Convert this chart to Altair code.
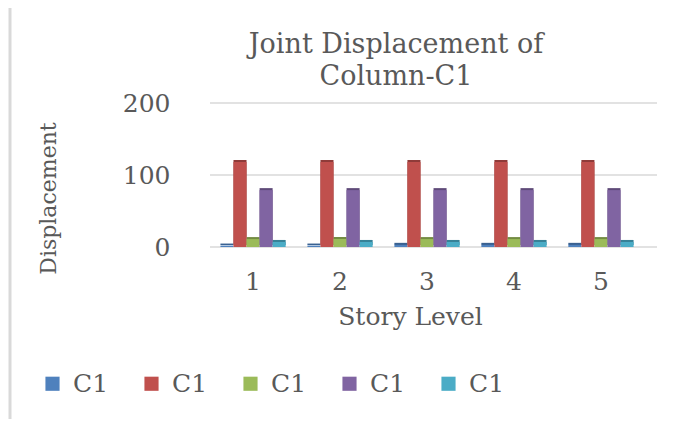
import altair as alt
import pandas as pd

stories = ["1", "2", "3", "4", "5"]
series_ids = ["s1", "s2", "s3", "s4", "s5"]
series_labels = ["C1", "C1", "C1", "C1", "C1"]
colors = ["#4f81bd", "#c0504d", "#9bbb59", "#8064a2", "#4bacc6"]
side_colors = ["#3a6190", "#8f3b39", "#738c42", "#5f4a79", "#378196"]
values = {
    "s1": [2, 2, 3, 3, 3],
    "s2": [118, 118, 118, 118, 118],
    "s3": [11, 11, 11, 11, 11],
    "s4": [79, 79, 79, 79, 79],
    "s5": [7, 7, 7, 7, 7],
}
y_ticks = [0, 100, 200]
title_lines = ["Joint Displacement of", "Column-C1"]

rows = []
for sid, sc in zip(series_ids, side_colors):
    for st, v in zip(stories, values[sid]):
        rows.append({"story": st, "series": sid, "value": v, "side": sc})
df = pd.DataFrame(rows)

FONT = "DejaVu Serif"
GREY = "#595959"

yscale = alt.Scale(domain=[0, 200])
xscale = alt.Scale(range=[0, 434], paddingInner=0.25, paddingOuter=0.12)

xaxis = alt.Axis(title="Story Level", labelAngle=0, labelFontSize=25,
                 labelFont=FONT, labelColor=GREY, labelPadding=22,
                 ticks=False, domain=False, grid=False, titleFont=FONT,
                 titleFontSize=25, titleFontWeight="normal",
                 titleColor=GREY, titleX=200, titlePadding=10)
yaxis = alt.Axis(values=y_ticks, title="Displacement", grid=False,
                 labelFont=FONT, labelFontSize=25, labelColor=GREY,
                 labelPadding=40, ticks=False, domain=False,
                 titleFont=FONT, titleFontSize=22,
                 titleFontWeight="normal", titleColor=GREY,
                 titleX=-162, titleY=95, titleAngle=-90,
                 titleBaseline="middle", titleAlign="center")

grid = alt.Chart(pd.DataFrame({"v": y_ticks})).mark_rule(
    color="#d9d9d9", strokeWidth=1.5
).encode(y=alt.Y("v:Q", scale=yscale, axis=yaxis, title="Displacement"),
         x=alt.value(0), x2=alt.value(447))

side = alt.Chart(df).mark_bar(xOffset=3, yOffset=-2).encode(
    x=alt.X("story:N", sort=stories, scale=xscale, axis=xaxis),
    xOffset=alt.XOffset("series:N", sort=series_ids),
    y=alt.Y("value:Q", scale=yscale, axis=yaxis),
    fill=alt.Fill("side:N", scale=None, legend=None),
)

bars = alt.Chart(df).mark_bar().encode(
    x=alt.X("story:N", sort=stories, scale=xscale, axis=xaxis),
    xOffset=alt.XOffset("series:N", sort=series_ids),
    y=alt.Y("value:Q", scale=yscale, axis=yaxis),
    color=alt.Color("series:N", sort=series_ids,
                    scale=alt.Scale(domain=series_ids, range=colors),
                    legend=alt.Legend(orient="none", direction="horizontal",
                                      legendX=-170, legendY=268, columns=5,
                                      title=None, symbolType="square",
                                      symbolSize=200, symbolStrokeWidth=0,
                                      labelFont=FONT, labelFontSize=25,
                                      labelColor=GREY, labelOffset=8,
                                      columnPadding=30,
                                      labelExpr="'C1'")),
)

border = alt.Chart(pd.DataFrame({"a": [0]})).mark_rule(
    color="#d9d9d9", strokeWidth=3
).encode(x=alt.value(-200), y=alt.value(-95), y2=alt.value(318))

title1 = alt.Chart(pd.DataFrame({"t": [title_lines[0]]})).mark_text(
    font=FONT, fontSize=27, color=GREY, align="center", baseline="alphabetic"
).encode(text="t:N", x=alt.value(186), y=alt.value(-50))
title2 = alt.Chart(pd.DataFrame({"t": [title_lines[1]]})).mark_text(
    font=FONT, fontSize=27, color=GREY, align="center", baseline="alphabetic"
).encode(text="t:N", x=alt.value(186), y=alt.value(-18))

chart = alt.layer(grid, side, bars, border, title1, title2).properties(
    width=447, height=144,
    view=alt.ViewBackground(stroke="transparent", strokeWidth=0),
    autosize=alt.AutoSizeParams(type="none"),
    padding={"left": 202, "top": 95, "right": 10, "bottom": 172},
).configure_view(stroke="transparent", strokeWidth=0).configure(background="white")

chart.save("out.html", embed_options={"renderer": "svg", "actions": False})
